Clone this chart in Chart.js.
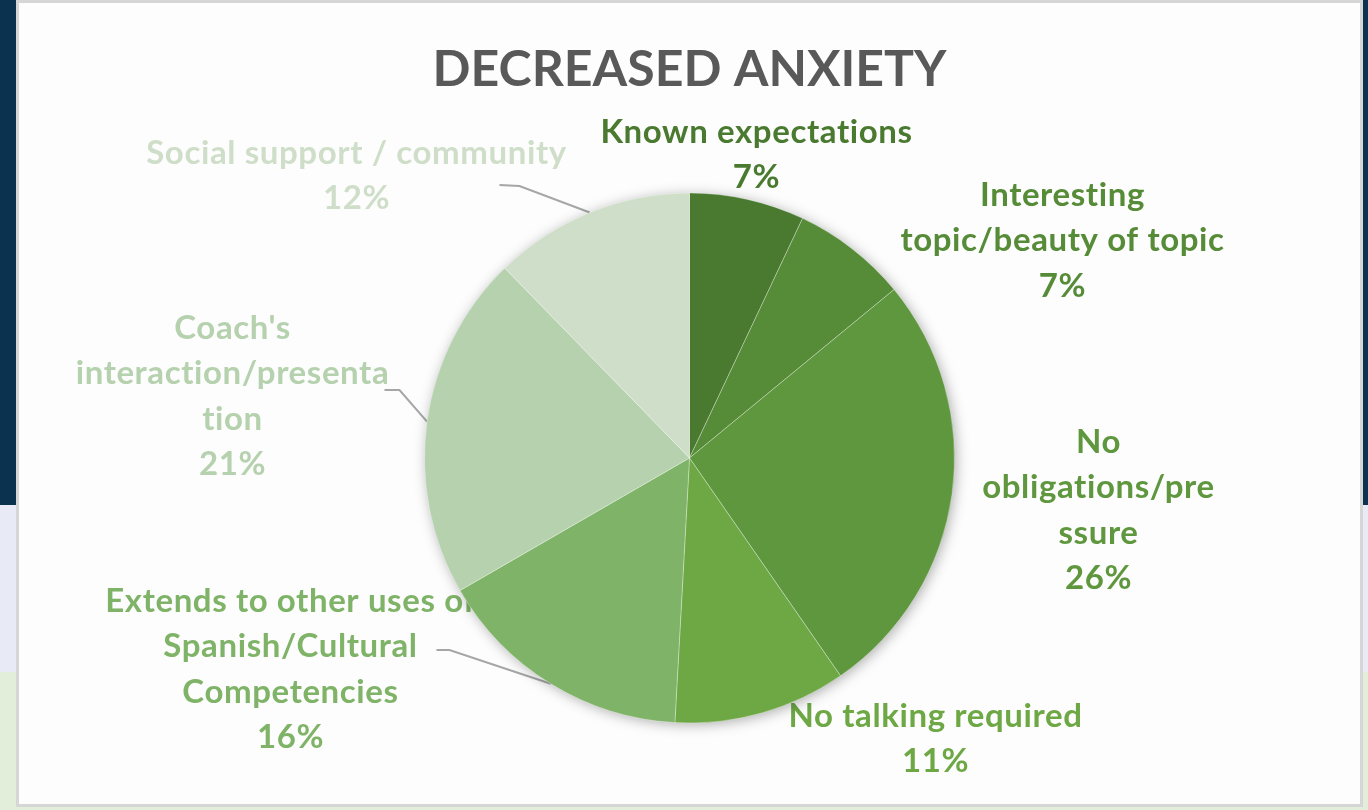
<!DOCTYPE html>
<html>
<head>
<meta charset="utf-8">
<script src="https://cdn.jsdelivr.net/npm/chart.js@4"></script>
<style>
  html, body { margin: 0; padding: 0; overflow: hidden; }
  body {
    width: 1368px; height: 810px; position: relative;
    background: linear-gradient(to bottom, #0b3350 0px, #0b3350 505px, #e8ebf5 505px, #e8ebf5 672px, #e2eed9 672px, #e2eed9 810px);
  }
  .box {
    position: absolute; left: 16px; top: 0; width: 1341px; height: 801px;
    background: #fdfdfd; border: 3px solid #d6d6d6;
  }
  #pie { position: absolute; left: 0; top: 0; }
</style>
</head>
<body>
<div class="box"></div>
<canvas id="pie" width="1368" height="810"></canvas>
<script>
// ---- data ----
const categories = [
  'Known expectations',
  'Interesting topic/beauty of topic',
  'No obligations/pressure',
  'No talking required',
  'Extends to other uses of Spanish/Cultural Competencies',
  "Coach's interaction/presentation",
  'Social support / community'
];
const counts = [4, 4, 15, 6, 9, 12, 7];
const labelLines = [
  ['Known expectations'],
  ['Interesting', 'topic/beauty of topic'],
  ['No', 'obligations/pre', 'ssure'],
  ['No talking required'],
  ['Extends to other uses of', 'Spanish/Cultural', 'Competencies'],
  ["Coach's", 'interaction/presenta', 'tion'],
  ['Social support / community']
];
const colors = ['#4a7a2f', '#568b37', '#5f973e', '#6da845', '#7fb367', '#b5d1ae', '#cfdec8'];

// label placement, relative to the pie centre (px): x of text centre, y of first line
const labelPos = [
  { x: 67, y: -326 },
  { x: 373, y: -263 },
  { x: 409, y: -16 },
  { x: 246, y: 258 },
  { x: -399, y: 143 },
  { x: -457, y: -130 },
  { x: -333, y: -305 }
];
// leader line start (relative to centre), null = none
const leaders = [null, null, null, null, [-253, 192, -240, 192], [-305, -68, -290, -68], [-190, -273, -170, -272]];

const lineGap = 45.5;
const total = counts.reduce((a, b) => a + b, 0);

const pieExtras = {
  id: 'pieExtras',
  beforeDatasetsDraw(chart) {
    const ctx = chart.ctx;
    const arc = chart.getDatasetMeta(0).data[0];
    const cx = arc.x, cy = arc.y, r = arc.outerRadius;

    // labels first, the pie may cover some of them
    ctx.save();
    ctx.font = 'bold 33px Lato';
    ctx.letterSpacing = '0.6px';
    ctx.textAlign = 'center';
    ctx.textBaseline = 'middle';
    labelLines.forEach((lines, i) => {
      const pct = Math.round(counts[i] / total * 100) + '%';
      const all = lines.concat([pct]);
      ctx.fillStyle = colors[i];
      all.forEach((t, j) => {
        ctx.fillText(t, cx + labelPos[i].x, cy + labelPos[i].y + j * lineGap);
      });
    });
    ctx.restore();

    // leader lines to slice midpoints
    ctx.save();
    ctx.strokeStyle = '#a6a6a6';
    ctx.lineWidth = 2;
    chart.getDatasetMeta(0).data.forEach((el, i) => {
      const l = leaders[i];
      if (!l) return;
      const mid = (el.startAngle + el.endAngle) / 2;
      ctx.beginPath();
      ctx.moveTo(cx + l[0], cy + l[1]);
      ctx.lineTo(cx + l[2], cy + l[3]);
      ctx.lineTo(cx + Math.cos(mid) * r, cy + Math.sin(mid) * r);
      ctx.stroke();
    });
    ctx.restore();

    // soft shadow behind the pie
    ctx.save();
    ctx.shadowColor = 'rgba(0,0,0,0.35)';
    ctx.shadowBlur = 14;
    ctx.shadowOffsetX = 2;
    ctx.shadowOffsetY = 2;
    ctx.fillStyle = '#ffffff';
    ctx.beginPath();
    ctx.arc(cx, cy, r - 1, 0, Math.PI * 2);
    ctx.fill();
    ctx.restore();
  }
};

new Chart(document.getElementById('pie'), {
  type: 'pie',
  data: {
    labels: categories,
    datasets: [{
      data: counts,
      backgroundColor: colors,
      borderColor: 'rgba(255,255,255,0.3)',
      borderWidth: 1
    }]
  },
  options: {
    responsive: false,
    animation: false,
    events: [],
    layout: { padding: { top: 40, left: 424, right: 413, bottom: 86 } },
    plugins: {
      legend: { display: false },
      tooltip: { enabled: false },
      title: {
        display: true,
        text: 'DECREASED ANXIETY',
        color: '#595959',
        font: { family: 'Lato', size: 50, weight: 'bold' },
        padding: { top: 0, bottom: 92 }
      }
    }
  },
  plugins: [pieExtras]
});
</script>
</body>
</html>
